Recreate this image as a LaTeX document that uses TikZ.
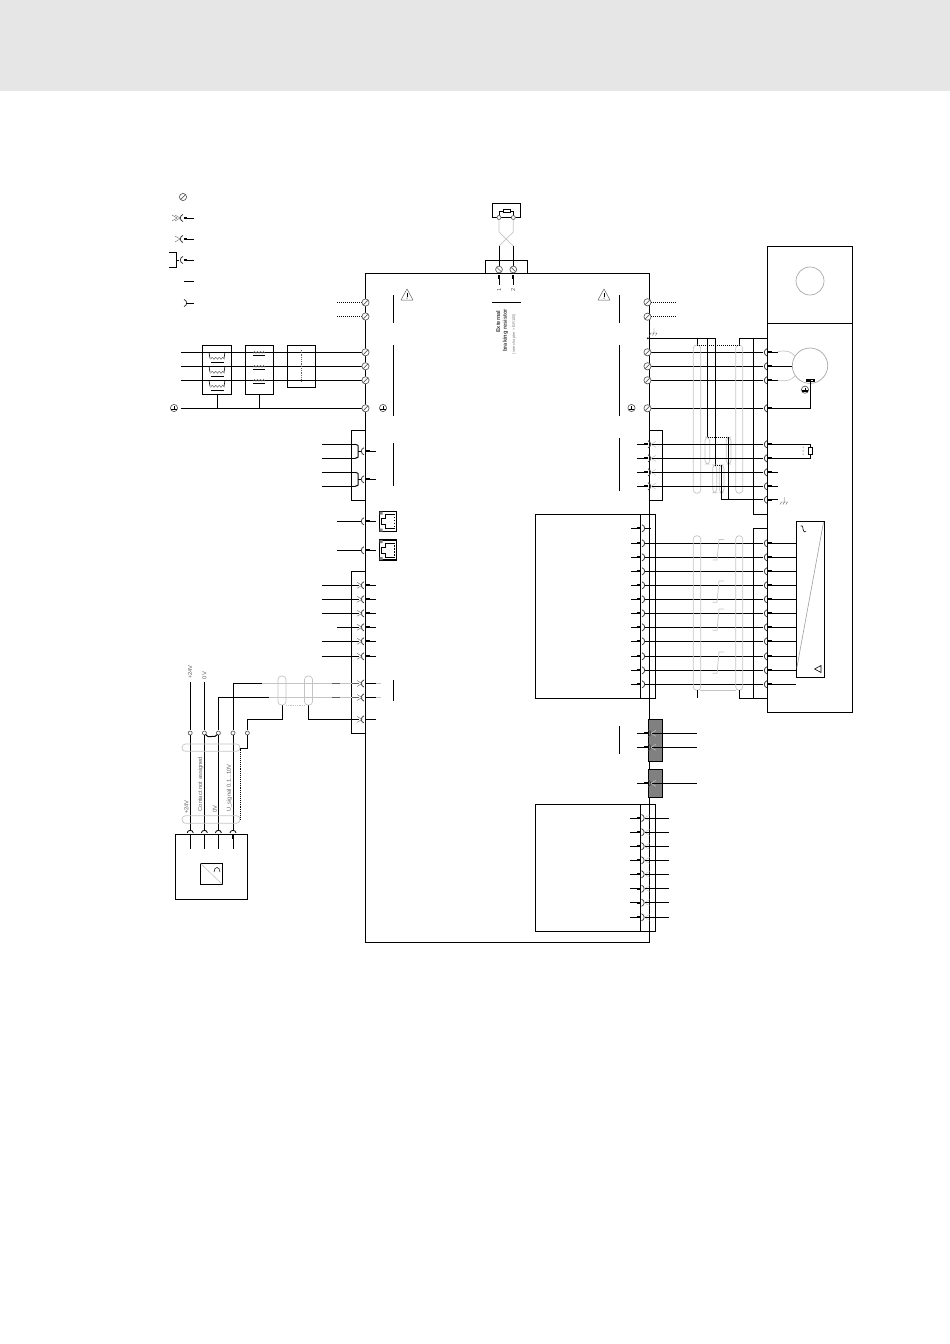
\documentclass[tikz,border=0pt]{standalone}
\usepackage{fontspec}
\setmainfont{Liberation Sans}
\definecolor{hdr}{HTML}{E6E6E6}
\definecolor{shld}{HTML}{C4C4C4}
\definecolor{sym}{HTML}{606060}
\definecolor{blk}{HTML}{808080}
\tikzset{
  wire/.style={black,line width=1pt},
  boxl/.style={draw=black,line width=1pt},
  dotw/.style={black,line width=1pt,densely dotted},
  shield/.style={draw=shld,line width=0.7pt,rounded corners=3.4pt},
  twist/.style={draw=shld,line width=0.7pt},
  symb/.style={draw=sym,line width=0.7pt},
  lab/.style={rotate=90,inner sep=0pt,text=sym,font=\fontsize{5.8}{6}\selectfont},
  stub/.style={black,line width=1.8pt}
}
% screw terminal
\newcommand{\screw}[2]{\filldraw[symb,fill=white] (#1,#2) circle (3.6);
  \draw[symb] (#1-2.4,#2+2.4) -- (#1+2.4,#2-2.4);}
% plug, mating face "(" and arrow stub to the right
\newcommand{\stubR}[2]{\draw[stub] (#1,#2) -- (#1+4,#2); \draw[wire] (#1+4,#2) -- (#1+10,#2);}
\newcommand{\capL}[2]{\draw[line width=0.8pt,draw=black!75] (#1+2,#2-3.6) .. controls (#1-1.6,#2-2.2) and (#1-1.6,#2+2.2) .. (#1+2,#2+3.6);}
\newcommand{\capR}[2]{\draw[line width=0.8pt,draw=black!75] (#1-2,#2-3.6) .. controls (#1+1.6,#2-2.2) and (#1+1.6,#2+2.2) .. (#1-2,#2+3.6);}
\newcommand{\fork}[2]{\draw[sym,line width=0.4pt] (#1-5,#2-3) -- (#1,#2) -- (#1-5,#2+3);}
\newcommand{\forkR}[2]{\draw[shld,line width=0.5pt] (#1+5,#2-3) -- (#1,#2) -- (#1+5,#2+3);}
\newcommand{\gnd}[2]{\filldraw[symb,fill=white] (#1,#2) circle (3.6);
  \draw[black,line width=0.9pt] (#1,#2-2) -- (#1,#2+1);
  \fill[black] (#1-2.6,#2+0.6) rectangle (#1+2.6,#2+2.4);}
\newcommand{\hatchgnd}[2]{\draw[sym,line width=0.4pt] (#1,#2-4) -- (#1,#2+1)
  (#1-3,#2+1) -- (#1+3,#2+1) (#1-3,#2+1) -- (#1-4.5,#2+3.5) (#1,#2+1) -- (#1-1.5,#2+3.5) (#1+3,#2+1) -- (#1+1.5,#2+3.5);}
\newcommand{\warn}[2]{\draw[sym,line width=0.5pt,line join=round] (#1-6,#2+5.5) -- (#1,#2-5.5) -- (#1+6,#2+5.5) -- cycle;
  \draw[black,line width=0.7pt] (#1,#2-1.5) -- (#1,#2+2); \fill[black] (#1,#2+3.6) circle (0.6);}
\newcommand{\rj}[2]{\draw[boxl,line width=1.1pt] (#1,#2) rectangle (#1+17,#2+20);
  \draw[black,line width=0.6pt] (#1+15,#2+3) -- (#1+6,#2+3) -- (#1+6,#2+7) -- (#1+2,#2+7) -- (#1+2,#2+13) -- (#1+6,#2+13) -- (#1+6,#2+17) -- (#1+15,#2+17);
  \fill[black!50] (#1,#2) rectangle (#1+3,#2+3) (#1,#2+17) rectangle (#1+3,#2+20);
  \foreach \k in {6,9,12,15}{\fill[black] (#1+14,#2+\k-0.7) rectangle (#1+15.6,#2+\k+0.7);}}
\newcommand{\coil}[3]{\draw[symb,line width=0.5pt] (#1,#2)
  .. controls (#1+1,#2-2.5) and (#1+2,#2-2.5) .. (#1+#3*0.25,#2)
  .. controls (#1+#3*0.25+1,#2-2.5) and (#1+#3*0.25+2,#2-2.5) .. (#1+#3*0.5,#2)
  .. controls (#1+#3*0.5+1,#2-2.5) and (#1+#3*0.5+2,#2-2.5) .. (#1+#3*0.75,#2)
  .. controls (#1+#3*0.75+1,#2-2.5) and (#1+#3*0.75+2,#2-2.5) .. (#1+#3,#2);}
\begin{document}
\begin{tikzpicture}[x=1pt,y=-1pt]
\useasboundingbox (0,0) rectangle (950,1344);
\fill[hdr] (0,0) rectangle (950,91);

% ---------- named frames
\coordinate (mainTL) at (365.5,273.5);
\coordinate (mainBR) at (649.5,942);
\draw[boxl] (mainTL) rectangle (mainBR);

% ---------- legend
\screw{183}{197}
\draw[wire] (187,218) -- (194,218); \draw[stub] (184,218) -- (187,218);
\capL{181}{218}\fork{180}{218}\fork{177}{218}
\draw[wire] (187,239) -- (194,239); \draw[stub] (184,239) -- (187,239);
\capL{181}{239}\fork{180}{239}
\draw[wire] (187,260) -- (194,260); \draw[stub] (184,260) -- (187,260);
\capL{181}{260}
\draw[wire] (169,252) -- (176,252) -- (176,267.5) -- (169,267.5);
\draw[wire] (176,260) -- (179,260);
\draw[wire] (187,281.5) -- (194,281.5); \draw[stub] (184,281.5) -- (187,281.5);
\capR{186}{303}\draw[wire] (186,303) -- (194,303);

% ---------- top-left terminals
\foreach \y in {302.5,316.5}{\draw[dotw] (337,\y) -- (362,\y);}
\foreach \y in {352.3,366.3,380.3,408.3}{\draw[wire] (181,\y) -- (362,\y);}
\foreach \y in {302.5,316.5,352.3,366.3,380.3,408.3}{\screw{365.5}{\y}}
\draw[boxl] (202.5,345.5) rectangle (231.5,394);
\draw[boxl] (245.5,345.5) rectangle (273.5,394);
\draw[boxl] (287.5,345.5) rectangle (315.5,387);
\draw[wire] (217,394) -- (217,408.3);
\draw[wire] (259,394) -- (259,408.3);
\gnd{174}{408}\gnd{383}{408}
\foreach \y in {352.3,366.3,380.3}{
  \coil{253}{\y+1}{12}
  \draw[black,line width=0.9pt] (253,\y+3.5) -- (265,\y+3.5);
  \coil{210.5}{\y+7}{14}
  \draw[black,line width=0.9pt] (211,\y+10) -- (224,\y+10);
  \draw[black,line width=0.6pt] (209,\y) -- (210,\y+6) (225,\y) -- (224,\y+6);
  \fill[black] (301,\y) circle (0.6);
}
\draw[sym,densely dotted,line width=0.8pt] (301.5,350) -- (301.5,382);
\draw[wire] (393.5,295) -- (393.5,323) (393.5,345) -- (393.5,416);

% ---------- left connector block 1
\draw[boxl] (365.5,430) -- (351.5,430) -- (351.5,500) -- (365.5,500);
\foreach \ya/\yb in {444.3/458.3,472.3/486.3}{
  \pgfmathsetmacro{\ym}{(\ya+\yb)/2}
  \draw[wire] (322,\ya) -- (355,\ya) (322,\yb) -- (355,\yb);
  \draw[wire] (358,\ya+1) -- (358,\yb-1) (355,\ya) -- (358,\ya+1) (355,\yb) -- (358,\yb-1);
  \draw[wire] (358,\ym) -- (361,\ym);
  \capL{362}{\ym}
  \stubR{366}{\ym}
}
\draw[wire] (393.5,443) -- (393.5,486);

% ---------- RJ45
\foreach \y/\ry in {521.3/511.5,550.3/540}{
  \draw[wire] (337,\y) -- (361,\y);
  \capL{362}{\y}
  \stubR{366}{\y}
  \rj{379.5}{\ry}
}

% ---------- left connector block 2
\draw[boxl] (365.5,571) -- (351.5,571) -- (351.5,733) -- (365.5,733);
\foreach \y/\xs in {585.3/322,599.3/322,613.3/322,627.3/337,641.3/322,656.3/322}{
  \draw[wire] (\xs,\y) -- (359,\y);
  \capL{362}{\y}\fork{362}{\y}
  \stubR{366}{\y}
}
% analog wires
\coordinate (aiA) at (262,683.5);
\coordinate (aiB) at (269,697.5);
\draw[shld,line width=0.9pt] (aiA) -- (359,683.5);
\draw[shld,line width=0.9pt] (aiB) -- (359,697.5);
\draw[sym,line width=0.7pt] (332,683.5) -- (340,683.5) (332,697.5) -- (340,697.5) (352,683.5) -- (359,683.5) (352,697.5) -- (359,697.5);
\draw[wire] (233,730) -- (233,683.5) -- (aiA);
\draw[wire] (218.5,730) -- (218.5,697.5) -- (aiB);
\draw[wire] (247.5,730) -- (247.5,719.4) -- (282,719.4) -- (282,705);
\draw[wire] (308,705) -- (308,719.4) -- (359,719.4);
\draw[shield] (278,676) rectangle (286,705);
\draw[shield] (304.5,676) rectangle (312.5,705);
\draw[shld,line width=0.8pt,densely dotted] (286,705) -- (304.5,705);
\foreach \y in {683.5,697.5,719.4}{\capL{362}{\y}\fork{362}{\y}}
\foreach \y in {683.5,697.5}{\draw[stub] (366,\y) -- (370,\y); \draw[wire] (370,\y) -- (376,\y); \draw[shld,line width=0.8pt] (376,\y) -- (381,\y);}
\stubR{366}{719.4}
\draw[wire] (393.5,680) -- (393.5,701);

% ---------- sensor
\foreach \x in {190.2,204.4,218.4,233,247.4}{\filldraw[symb,fill=white] (\x,733) circle (2);}
\draw[wire] (190.2,682) -- (190.2,730) (204.4,682) -- (204.4,730);
\draw[wire] (205.5,734.5) .. controls (207,737.5) and (209,736.5) .. (211,736.5) .. controls (214,736.5) and (216,737) .. (217.5,734.5);
\node[lab] (t24a) at (190,672) {+24V};
\node[lab] (t0a) at (204.4,675.5) {0V};
\foreach \x in {190.2,204.4,218.4,233}{
  \draw[wire] (\x,735) -- (\x,831);
  \draw[black,line width=0.8pt] (\x-3,833) .. controls (\x-3,829.5) and (\x+3,829.5) .. (\x+3,833);
  \draw[black,line width=1.4pt] (\x,834) -- (\x,839);
  \draw[wire] (\x,839) -- (\x,848.6);
}
\draw[shield,rounded corners=3.5pt] (182,744) rectangle (240,751.3);
\draw[shield,rounded corners=3.5pt] (182,815.7) rectangle (240,823.3);
\draw[black,line width=0.9pt,densely dotted] (240,748.5) -- (240,820);
\draw[wire] (240,748.5) -- (247.4,748.5) -- (247.4,735);
\draw[boxl] (175.3,834.3) rectangle (247.3,899.3);
\draw[boxl] (200.3,863.3) rectangle (222.3,884.3);
\draw[shld,line width=0.6pt] (200.3,863.3) -- (222.3,884.3);
\draw[black,line width=0.5pt] (214,872) .. controls (214,866) and (220,866) .. (220,872);
\node[lab] (c1) at (186.3,807) {+24V};
\node[lab] (c2) at (200.6,784) {Contact not assigned};
\node[lab] (c3) at (215,809) {0V};
\node[lab] (c4) at (229.3,788) {U\_signal 0.1...10V};

% ---------- braking resistor
\draw[boxl] (492,203.3) rectangle (520.7,217.3);
\draw[boxl] (503.3,209.3) rectangle (510.7,212.7);
\draw[wire] (499,216) -- (499,211) -- (503.3,211) (510.7,211) -- (513.3,211) -- (513.3,216);
\foreach \x in {499,513.3}{\filldraw[symb,fill=white] (\x,217.5) circle (2);}
\draw[shld,line width=0.7pt] (499,219.5) -- (499,232) -- (513.3,246) (513.3,219.5) -- (513.3,232) -- (499,246);
\draw[wire] (499,246) -- (499,268) (513.3,246) -- (513.3,268);
\draw[boxl] (485,273.5) -- (485,260.3) -- (527.3,260.3) -- (527.3,273.5);
\foreach \x in {499,513.3}{
  \filldraw[symb,fill=white] (\x,269.5) circle (3.4);
  \draw[symb] (\x-2.3,267.2) -- (\x+2.3,271.8);
  \draw[stub] (\x,275) -- (\x,279);
  \draw[wire] (\x,279) -- (\x,284.5);
}
\node[lab] (n1) at (499,290) {1};
\node[lab] (n2) at (513,290) {2};
\draw[wire] (492,302.5) -- (520.5,302.5);
\node[lab,font=\fontsize{5.6}{6}\bfseries\selectfont,text=black!75] (ext) at (498,321.7) {External};
\node[lab,font=\fontsize{5.6}{6}\bfseries\selectfont,text=black!75] (brk) at (505.5,330.5) {braking resistor};
\node[lab,font=\fontsize{4}{5}\selectfont,text=black!50] (see) at (514,334) {(see chapter > BR100)};

\warn{407}{294.5}\warn{604}{294.5}
\draw[wire] (619.5,295) -- (619.5,323) (619.5,345) -- (619.5,416) (619.5,438) -- (619.5,491) (619.5,726) -- (619.5,754);

% ---------- right power terminals
\foreach \y in {302.3,316.7}{\screw{647.5}{\y}\draw[dotw] (651,\y) -- (676,\y);}
\hatchgnd{654}{332}
\fill[black] (647.8,338.3) circle (1);
\foreach \y in {352.3,366.3,380.3,408.3}{\draw[wire] (651,\y) -- (763,\y); \screw{647.5}{\y}}
\gnd{631.5}{408}
% PE + shields
\draw[wire] (649,338.3) -- (715.3,338.3) -- (715.3,465);
\draw[wire] (697,338.3) -- (697,345) (707.7,338.3) -- (707.7,437.3);
\draw[wire] (739.3,345) -- (739.3,338.3) -- (767.3,338.3);
\draw[shield] (693.3,345) rectangle (700.7,493.3);
\draw[shield] (735.7,345) rectangle (742.7,493.3);
\draw[shield] (705,437.3) rectangle (709.7,464);
\draw[shield] (726.3,437.3) rectangle (731,464);
\draw[shield] (712.7,465) rectangle (716.7,492.7);
\draw[shield] (719.3,465) rectangle (724,492.7);
\draw[dotw] (697,345) -- (739.3,345);
\draw[dotw] (707.7,437.3) -- (729,437.3);
\draw[dotw] (715.3,465) -- (722,465);
\draw[wire] (728.7,437.3) -- (728.7,499.7);
\draw[wire] (721.7,465) -- (721.7,499.7) -- (763,499.7);

% ---------- right block top + bottom of motor side
\draw[wire] (767.3,338.3) -- (753.3,338.3) -- (753.3,514.3) -- (767.3,514.3);
\draw[wire] (767.3,528.3) -- (753.3,528.3) -- (753.3,698.3) -- (767.3,698.3);

% ---------- motor box
\draw[boxl] (767.3,246) rectangle (852.3,712.3);
\draw[wire] (767.3,323.3) -- (852.3,323.3);
\draw[symb,draw=shld!85!black] (810,281) circle (14);
\draw[symb,draw=shld!85!black] (810,365.7) circle (17.7);
\foreach \y in {352.3,366.3,380.3,408.3,444.3,458.3,472.3,486.3,499.7}{\capL{765}{\y}\stubR{768}{\y}}
\draw[wire] (778,366.3) -- (792.3,366.3);
\draw[shld,line width=0.7pt] (778,351.5) .. controls (788,350) and (791,352) .. (795,356);
\draw[shld,line width=0.7pt] (778,380.5) .. controls (788,381.5) and (791,380) .. (795,376);
\draw[boxl,fill=black] (806,379.3) rectangle (814,381.7);
\fill[white] (811,380) rectangle (813.4,381);
\gnd{805}{389.7}
\draw[wire] (810.7,382) -- (810.7,408.3) -- (778,408.3);
\draw[wire] (778,444.3) -- (810.7,444.3) -- (810.7,447.3) (810.7,454.3) -- (810.7,458.3) -- (778,458.3);
\draw[boxl] (808.4,447.3) rectangle (812.8,454.3);
\fill[shld] (802.6,446.5) rectangle (804,448) (802.6,450) rectangle (804,451.5) (802.6,453.5) rectangle (804,455);
\hatchgnd{784.5}{501}

% ---------- right connector block encoder
\draw[boxl] (649.5,430.3) rectangle (662.7,500.3);
\foreach \y in {444.3,458.3,472.3,486.3}{
  \draw[wire] (637,\y) -- (644,\y); \draw[stub] (644,\y) -- (648,\y);
  \capR{650}{\y}\forkR{651}{\y}
  \draw[wire] (652,\y) -- (763,\y);
}

% ---------- feedback connector
\draw[boxl] (535.5,514.3) rectangle (655.4,698.3);
\draw[wire] (640.7,514.3) -- (640.7,698.3);
\draw[wire] (631,528.3) -- (637,528.3); \draw[stub] (637,528.3) -- (641,528.3); \capR{644}{528.3}\draw[wire] (645,528.3) -- (651,528.3);
\foreach \y in {543.3,557.3,571.3,585.3,599.3,613.3,627.3,641.3,656.3,670.3,684.3}{
  \draw[wire] (631,\y) -- (637,\y); \draw[stub] (637,\y) -- (641,\y);
  \capR{644}{\y}
  \draw[wire] (645,\y) -- (763,\y);
  \capL{765}{\y}\draw[stub] (768,\y) -- (772,\y);
  \draw[wire] (772,\y) -- (796.3,\y);
}
\draw[shield] (693.3,535.7) rectangle (700.7,690.3);
\draw[shield] (735.7,535.7) rectangle (742.7,690.3);
\draw[shld,line width=0.7pt] (700,690.3) -- (736,690.3);
\draw[wire] (697.4,690.3) -- (697.4,698.3);
\draw[wire] (739.3,690.3) -- (739.3,698.3) -- (753.3,698.3);
\foreach \a/\b in {539.5/560,581/602.3,609/630.3,652/673.3}{
  \draw[twist] (712.7,\b) -- (717,\b) -- (719,\a) -- (724,\a);
}
\draw[boxl] (796.3,521.3) rectangle (824.3,677.3);
\draw[shld!80!black,line width=0.6pt] (823.5,522.3) -- (796.8,668);
\draw[black,line width=0.6pt] (800.5,526) .. controls (804,525) and (802,528.5) .. (803,529) .. controls (804,529.5) and (803,533) .. (806,531.5);
\draw[black,line width=0.6pt] (814.5,669) -- (821,665.5) -- (821,672.5) -- cycle;

% ---------- grey blocks
\draw[boxl,fill=blk] (648.3,719.3) rectangle (662.3,761.3);
\draw[boxl,fill=blk] (648.3,769.3) rectangle (662.3,797.3);
\foreach \y in {733.3,747.3,783.3}{
  \draw[wire] (637,\y) -- (644,\y); \draw[stub] (644,\y) -- (648,\y);
  \capR{650}{\y}\forkR{651}{\y}
  \draw[wire] (652,\y) -- (697,\y);
}

% ---------- bottom connector
\draw[boxl] (535.4,804.3) rectangle (655.7,931.3);
\draw[wire] (640.4,804.3) -- (640.4,931.3);
\foreach \y in {818,832.3,846.3,860.3,874.3,888.7,902.7,917.3}{
  \draw[wire] (630,\y) -- (637,\y); \draw[stub] (637,\y) -- (641,\y);
  \capR{643.5}{\y}\forkR{644.5}{\y}
  \draw[wire] (645,\y) -- (669,\y);
}
\end{tikzpicture}
\end{document}
